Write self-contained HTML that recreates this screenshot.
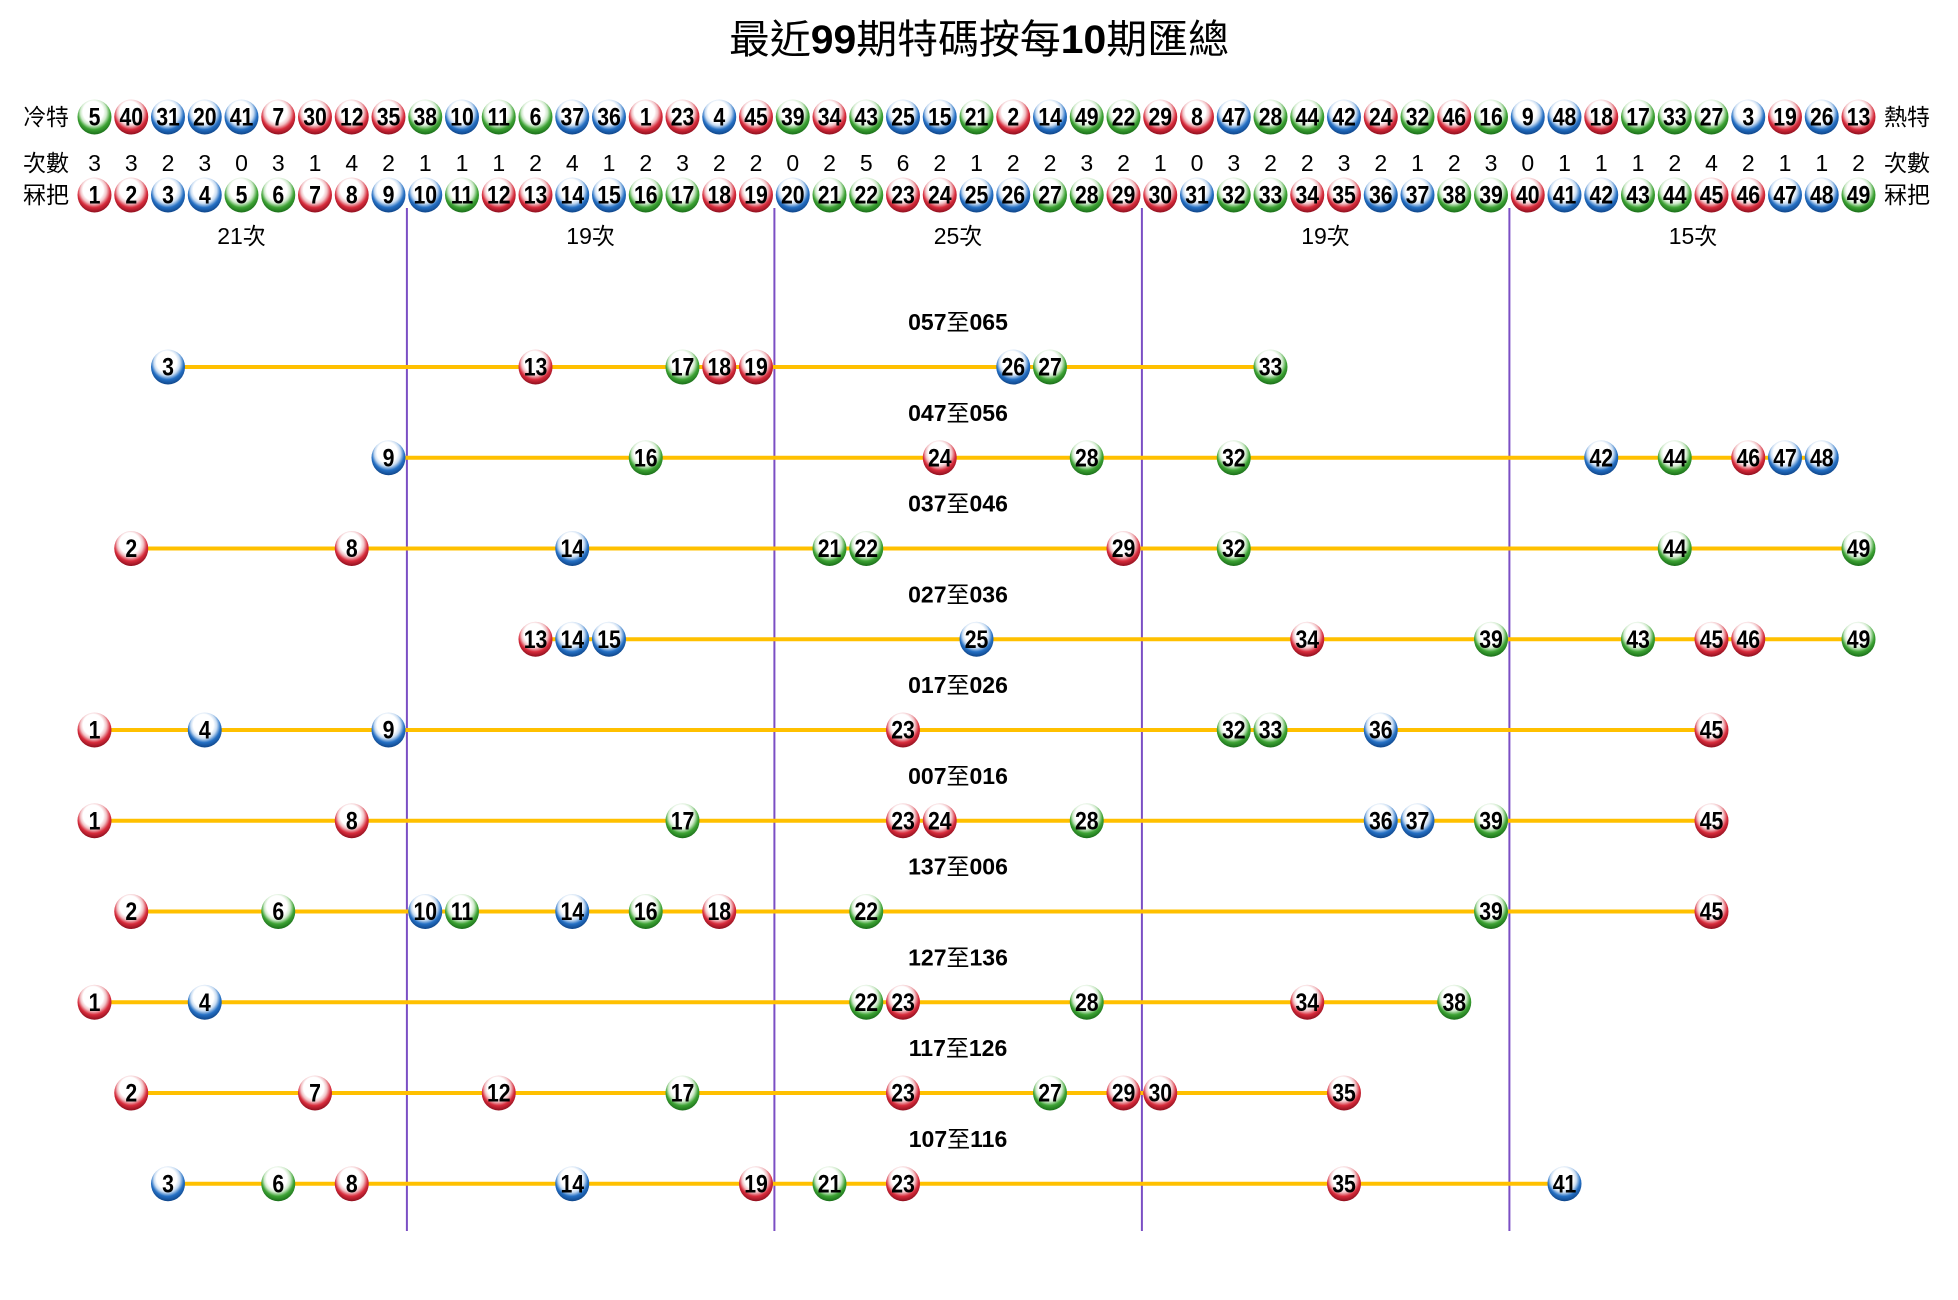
<!DOCTYPE html>
<html><head><meta charset="utf-8">
<style>
html,body{margin:0;padding:0;background:#fff;}
svg{display:block;}
.n{font-family:"Liberation Sans",sans-serif;font-weight:bold;font-size:25px;text-anchor:middle;dominant-baseline:central;fill:#000;transform:scale(0.85,1);}
.c{font-family:"Liberation Sans",sans-serif;font-size:23px;text-anchor:middle;dominant-baseline:central;fill:#000;}
.lb{font-family:"Liberation Sans","Noto Sans CJK TC",sans-serif;font-size:23px;text-anchor:middle;dominant-baseline:central;fill:#000;}
.g{font-family:"Liberation Sans","Noto Sans CJK TC",sans-serif;font-size:23px;text-anchor:middle;dominant-baseline:central;fill:#000;}
.rl{font-family:"Liberation Sans","Noto Sans CJK TC",sans-serif;font-size:23px;font-weight:bold;text-anchor:middle;dominant-baseline:central;fill:#000;}
.t{font-family:"Liberation Sans","Noto Sans CJK TC",sans-serif;font-size:40px;text-anchor:middle;dominant-baseline:central;fill:#000;}
</style></head>
<body>
<svg width="1958" height="1300" viewBox="0 0 1958 1300" xmlns="http://www.w3.org/2000/svg">
<defs>
<radialGradient id="gR" cx="50%" cy="40%" r="60%" fx="42%" fy="30%">
<stop offset="0" stop-color="#ffffff"/><stop offset="0.5" stop-color="#ffffff"/><stop offset="0.64" stop-color="#f2c2c6"/><stop offset="0.8" stop-color="#d82c3c"/><stop offset="1" stop-color="#8e0f1e"/>
</radialGradient>
<radialGradient id="gB" cx="50%" cy="40%" r="60%" fx="42%" fy="30%">
<stop offset="0" stop-color="#ffffff"/><stop offset="0.5" stop-color="#ffffff"/><stop offset="0.64" stop-color="#c8dcf2"/><stop offset="0.8" stop-color="#2570c4"/><stop offset="1" stop-color="#0f4589"/>
</radialGradient>
<radialGradient id="gG" cx="50%" cy="40%" r="60%" fx="42%" fy="30%">
<stop offset="0" stop-color="#ffffff"/><stop offset="0.5" stop-color="#ffffff"/><stop offset="0.64" stop-color="#cfeacb"/><stop offset="0.8" stop-color="#3da334"/><stop offset="1" stop-color="#1a6e19"/>
</radialGradient>
<g id="R"><ellipse rx="17" ry="17.5" fill="url(#gR)"/></g>
<g id="B"><ellipse rx="17" ry="17.5" fill="url(#gB)"/></g>
<g id="G"><ellipse rx="17" ry="17.5" fill="url(#gG)"/></g>
</defs>

<!-- Title -->
<text class="t" x="979" y="40" textLength="500" lengthAdjust="spacingAndGlyphs">最近<tspan font-weight="bold">99</tspan>期特碼按每<tspan font-weight="bold">10</tspan>期匯總</text>

<!-- Side labels -->
<text class="lb" x="46" y="117">冷特</text>
<text class="lb" x="46" y="163">次數</text>
<text class="lb" x="46" y="195">冧把</text>
<text class="lb" x="1907" y="117">熱特</text>
<text class="lb" x="1907" y="163">次數</text>
<text class="lb" x="1907" y="195">冧把</text>

<!-- Purple separators -->
<g stroke="#7b4fc4" stroke-width="2">
<line x1="406.9" y1="208" x2="406.9" y2="1231"/>
<line x1="774.4" y1="208" x2="774.4" y2="1231"/>
<line x1="1141.9" y1="208" x2="1141.9" y2="1231"/>
<line x1="1509.4" y1="208" x2="1509.4" y2="1231"/>
</g>

<!-- Group labels -->
<text class="g" x="241.5" y="236">21次</text>
<text class="g" x="590.6" y="236">19次</text>
<text class="g" x="958" y="236">25次</text>
<text class="g" x="1325.5" y="236">19次</text>
<text class="g" x="1693" y="236">15次</text>

<!-- 冷特 row -->
<g transform="translate(94.5,117)"><use href="#G"/><text class="n">5</text></g>
<g transform="translate(131.25,117)"><use href="#R"/><text class="n">40</text></g>
<g transform="translate(168,117)"><use href="#B"/><text class="n">31</text></g>
<g transform="translate(204.75,117)"><use href="#B"/><text class="n">20</text></g>
<g transform="translate(241.5,117)"><use href="#B"/><text class="n">41</text></g>
<g transform="translate(278.25,117)"><use href="#R"/><text class="n">7</text></g>
<g transform="translate(315,117)"><use href="#R"/><text class="n">30</text></g>
<g transform="translate(351.75,117)"><use href="#R"/><text class="n">12</text></g>
<g transform="translate(388.5,117)"><use href="#R"/><text class="n">35</text></g>
<g transform="translate(425.25,117)"><use href="#G"/><text class="n">38</text></g>
<g transform="translate(462,117)"><use href="#B"/><text class="n">10</text></g>
<g transform="translate(498.75,117)"><use href="#G"/><text class="n">11</text></g>
<g transform="translate(535.5,117)"><use href="#G"/><text class="n">6</text></g>
<g transform="translate(572.25,117)"><use href="#B"/><text class="n">37</text></g>
<g transform="translate(609,117)"><use href="#B"/><text class="n">36</text></g>
<g transform="translate(645.75,117)"><use href="#R"/><text class="n">1</text></g>
<g transform="translate(682.5,117)"><use href="#R"/><text class="n">23</text></g>
<g transform="translate(719.25,117)"><use href="#B"/><text class="n">4</text></g>
<g transform="translate(756,117)"><use href="#R"/><text class="n">45</text></g>
<g transform="translate(792.75,117)"><use href="#G"/><text class="n">39</text></g>
<g transform="translate(829.5,117)"><use href="#R"/><text class="n">34</text></g>
<g transform="translate(866.25,117)"><use href="#G"/><text class="n">43</text></g>
<g transform="translate(903,117)"><use href="#B"/><text class="n">25</text></g>
<g transform="translate(939.75,117)"><use href="#B"/><text class="n">15</text></g>
<g transform="translate(976.5,117)"><use href="#G"/><text class="n">21</text></g>
<g transform="translate(1013.25,117)"><use href="#R"/><text class="n">2</text></g>
<g transform="translate(1050,117)"><use href="#B"/><text class="n">14</text></g>
<g transform="translate(1086.75,117)"><use href="#G"/><text class="n">49</text></g>
<g transform="translate(1123.5,117)"><use href="#G"/><text class="n">22</text></g>
<g transform="translate(1160.25,117)"><use href="#R"/><text class="n">29</text></g>
<g transform="translate(1197,117)"><use href="#R"/><text class="n">8</text></g>
<g transform="translate(1233.75,117)"><use href="#B"/><text class="n">47</text></g>
<g transform="translate(1270.5,117)"><use href="#G"/><text class="n">28</text></g>
<g transform="translate(1307.25,117)"><use href="#G"/><text class="n">44</text></g>
<g transform="translate(1344,117)"><use href="#B"/><text class="n">42</text></g>
<g transform="translate(1380.75,117)"><use href="#R"/><text class="n">24</text></g>
<g transform="translate(1417.5,117)"><use href="#G"/><text class="n">32</text></g>
<g transform="translate(1454.25,117)"><use href="#R"/><text class="n">46</text></g>
<g transform="translate(1491,117)"><use href="#G"/><text class="n">16</text></g>
<g transform="translate(1527.75,117)"><use href="#B"/><text class="n">9</text></g>
<g transform="translate(1564.5,117)"><use href="#B"/><text class="n">48</text></g>
<g transform="translate(1601.25,117)"><use href="#R"/><text class="n">18</text></g>
<g transform="translate(1638,117)"><use href="#G"/><text class="n">17</text></g>
<g transform="translate(1674.75,117)"><use href="#G"/><text class="n">33</text></g>
<g transform="translate(1711.5,117)"><use href="#G"/><text class="n">27</text></g>
<g transform="translate(1748.25,117)"><use href="#B"/><text class="n">3</text></g>
<g transform="translate(1785,117)"><use href="#R"/><text class="n">19</text></g>
<g transform="translate(1821.75,117)"><use href="#B"/><text class="n">26</text></g>
<g transform="translate(1858.5,117)"><use href="#R"/><text class="n">13</text></g>

<!-- 次數 row -->
<text class="c" x="94.5" y="163">3</text>
<text class="c" x="131.25" y="163">3</text>
<text class="c" x="168" y="163">2</text>
<text class="c" x="204.75" y="163">3</text>
<text class="c" x="241.5" y="163">0</text>
<text class="c" x="278.25" y="163">3</text>
<text class="c" x="315" y="163">1</text>
<text class="c" x="351.75" y="163">4</text>
<text class="c" x="388.5" y="163">2</text>
<text class="c" x="425.25" y="163">1</text>
<text class="c" x="462" y="163">1</text>
<text class="c" x="498.75" y="163">1</text>
<text class="c" x="535.5" y="163">2</text>
<text class="c" x="572.25" y="163">4</text>
<text class="c" x="609" y="163">1</text>
<text class="c" x="645.75" y="163">2</text>
<text class="c" x="682.5" y="163">3</text>
<text class="c" x="719.25" y="163">2</text>
<text class="c" x="756" y="163">2</text>
<text class="c" x="792.75" y="163">0</text>
<text class="c" x="829.5" y="163">2</text>
<text class="c" x="866.25" y="163">5</text>
<text class="c" x="903" y="163">6</text>
<text class="c" x="939.75" y="163">2</text>
<text class="c" x="976.5" y="163">1</text>
<text class="c" x="1013.25" y="163">2</text>
<text class="c" x="1050" y="163">2</text>
<text class="c" x="1086.75" y="163">3</text>
<text class="c" x="1123.5" y="163">2</text>
<text class="c" x="1160.25" y="163">1</text>
<text class="c" x="1197" y="163">0</text>
<text class="c" x="1233.75" y="163">3</text>
<text class="c" x="1270.5" y="163">2</text>
<text class="c" x="1307.25" y="163">2</text>
<text class="c" x="1344" y="163">3</text>
<text class="c" x="1380.75" y="163">2</text>
<text class="c" x="1417.5" y="163">1</text>
<text class="c" x="1454.25" y="163">2</text>
<text class="c" x="1491" y="163">3</text>
<text class="c" x="1527.75" y="163">0</text>
<text class="c" x="1564.5" y="163">1</text>
<text class="c" x="1601.25" y="163">1</text>
<text class="c" x="1638" y="163">1</text>
<text class="c" x="1674.75" y="163">2</text>
<text class="c" x="1711.5" y="163">4</text>
<text class="c" x="1748.25" y="163">2</text>
<text class="c" x="1785" y="163">1</text>
<text class="c" x="1821.75" y="163">1</text>
<text class="c" x="1858.5" y="163">2</text>

<!-- 冧把 row -->
<g transform="translate(94.5,195)"><use href="#R"/><text class="n">1</text></g>
<g transform="translate(131.25,195)"><use href="#R"/><text class="n">2</text></g>
<g transform="translate(168,195)"><use href="#B"/><text class="n">3</text></g>
<g transform="translate(204.75,195)"><use href="#B"/><text class="n">4</text></g>
<g transform="translate(241.5,195)"><use href="#G"/><text class="n">5</text></g>
<g transform="translate(278.25,195)"><use href="#G"/><text class="n">6</text></g>
<g transform="translate(315,195)"><use href="#R"/><text class="n">7</text></g>
<g transform="translate(351.75,195)"><use href="#R"/><text class="n">8</text></g>
<g transform="translate(388.5,195)"><use href="#B"/><text class="n">9</text></g>
<g transform="translate(425.25,195)"><use href="#B"/><text class="n">10</text></g>
<g transform="translate(462,195)"><use href="#G"/><text class="n">11</text></g>
<g transform="translate(498.75,195)"><use href="#R"/><text class="n">12</text></g>
<g transform="translate(535.5,195)"><use href="#R"/><text class="n">13</text></g>
<g transform="translate(572.25,195)"><use href="#B"/><text class="n">14</text></g>
<g transform="translate(609,195)"><use href="#B"/><text class="n">15</text></g>
<g transform="translate(645.75,195)"><use href="#G"/><text class="n">16</text></g>
<g transform="translate(682.5,195)"><use href="#G"/><text class="n">17</text></g>
<g transform="translate(719.25,195)"><use href="#R"/><text class="n">18</text></g>
<g transform="translate(756,195)"><use href="#R"/><text class="n">19</text></g>
<g transform="translate(792.75,195)"><use href="#B"/><text class="n">20</text></g>
<g transform="translate(829.5,195)"><use href="#G"/><text class="n">21</text></g>
<g transform="translate(866.25,195)"><use href="#G"/><text class="n">22</text></g>
<g transform="translate(903,195)"><use href="#R"/><text class="n">23</text></g>
<g transform="translate(939.75,195)"><use href="#R"/><text class="n">24</text></g>
<g transform="translate(976.5,195)"><use href="#B"/><text class="n">25</text></g>
<g transform="translate(1013.25,195)"><use href="#B"/><text class="n">26</text></g>
<g transform="translate(1050,195)"><use href="#G"/><text class="n">27</text></g>
<g transform="translate(1086.75,195)"><use href="#G"/><text class="n">28</text></g>
<g transform="translate(1123.5,195)"><use href="#R"/><text class="n">29</text></g>
<g transform="translate(1160.25,195)"><use href="#R"/><text class="n">30</text></g>
<g transform="translate(1197,195)"><use href="#B"/><text class="n">31</text></g>
<g transform="translate(1233.75,195)"><use href="#G"/><text class="n">32</text></g>
<g transform="translate(1270.5,195)"><use href="#G"/><text class="n">33</text></g>
<g transform="translate(1307.25,195)"><use href="#R"/><text class="n">34</text></g>
<g transform="translate(1344,195)"><use href="#R"/><text class="n">35</text></g>
<g transform="translate(1380.75,195)"><use href="#B"/><text class="n">36</text></g>
<g transform="translate(1417.5,195)"><use href="#B"/><text class="n">37</text></g>
<g transform="translate(1454.25,195)"><use href="#G"/><text class="n">38</text></g>
<g transform="translate(1491,195)"><use href="#G"/><text class="n">39</text></g>
<g transform="translate(1527.75,195)"><use href="#R"/><text class="n">40</text></g>
<g transform="translate(1564.5,195)"><use href="#B"/><text class="n">41</text></g>
<g transform="translate(1601.25,195)"><use href="#B"/><text class="n">42</text></g>
<g transform="translate(1638,195)"><use href="#G"/><text class="n">43</text></g>
<g transform="translate(1674.75,195)"><use href="#G"/><text class="n">44</text></g>
<g transform="translate(1711.5,195)"><use href="#R"/><text class="n">45</text></g>
<g transform="translate(1748.25,195)"><use href="#R"/><text class="n">46</text></g>
<g transform="translate(1785,195)"><use href="#B"/><text class="n">47</text></g>
<g transform="translate(1821.75,195)"><use href="#B"/><text class="n">48</text></g>
<g transform="translate(1858.5,195)"><use href="#G"/><text class="n">49</text></g>

<!-- Row labels -->
<text class="rl" x="958" y="322">057<tspan font-weight="normal">至</tspan>065</text>
<text class="rl" x="958" y="412.75">047<tspan font-weight="normal">至</tspan>056</text>
<text class="rl" x="958" y="503.5">037<tspan font-weight="normal">至</tspan>046</text>
<text class="rl" x="958" y="594.25">027<tspan font-weight="normal">至</tspan>036</text>
<text class="rl" x="958" y="685">017<tspan font-weight="normal">至</tspan>026</text>
<text class="rl" x="958" y="775.75">007<tspan font-weight="normal">至</tspan>016</text>
<text class="rl" x="958" y="866.5">137<tspan font-weight="normal">至</tspan>006</text>
<text class="rl" x="958" y="957.25">127<tspan font-weight="normal">至</tspan>136</text>
<text class="rl" x="958" y="1048">117<tspan font-weight="normal">至</tspan>126</text>
<text class="rl" x="958" y="1138.75">107<tspan font-weight="normal">至</tspan>116</text>

<!-- Yellow lines -->
<g stroke="#FFC000" stroke-width="4">
<line x1="168" y1="367" x2="1270.5" y2="367"/>
<line x1="388.5" y1="457.75" x2="1821.75" y2="457.75"/>
<line x1="131.25" y1="548.5" x2="1858.5" y2="548.5"/>
<line x1="535.5" y1="639.25" x2="1858.5" y2="639.25"/>
<line x1="94.5" y1="730" x2="1711.5" y2="730"/>
<line x1="94.5" y1="820.75" x2="1711.5" y2="820.75"/>
<line x1="131.25" y1="911.5" x2="1711.5" y2="911.5"/>
<line x1="94.5" y1="1002.25" x2="1454.25" y2="1002.25"/>
<line x1="131.25" y1="1093" x2="1344" y2="1093"/>
<line x1="168" y1="1183.75" x2="1564.5" y2="1183.75"/>
</g>

<!-- Row 0: 057至065 -->
<g transform="translate(168,367)"><use href="#B"/><text class="n">3</text></g>
<g transform="translate(535.5,367)"><use href="#R"/><text class="n">13</text></g>
<g transform="translate(682.5,367)"><use href="#G"/><text class="n">17</text></g>
<g transform="translate(719.25,367)"><use href="#R"/><text class="n">18</text></g>
<g transform="translate(756,367)"><use href="#R"/><text class="n">19</text></g>
<g transform="translate(1013.25,367)"><use href="#B"/><text class="n">26</text></g>
<g transform="translate(1050,367)"><use href="#G"/><text class="n">27</text></g>
<g transform="translate(1270.5,367)"><use href="#G"/><text class="n">33</text></g>

<!-- Row 1: 047至056 -->
<g transform="translate(388.5,457.75)"><use href="#B"/><text class="n">9</text></g>
<g transform="translate(645.75,457.75)"><use href="#G"/><text class="n">16</text></g>
<g transform="translate(939.75,457.75)"><use href="#R"/><text class="n">24</text></g>
<g transform="translate(1086.75,457.75)"><use href="#G"/><text class="n">28</text></g>
<g transform="translate(1233.75,457.75)"><use href="#G"/><text class="n">32</text></g>
<g transform="translate(1601.25,457.75)"><use href="#B"/><text class="n">42</text></g>
<g transform="translate(1674.75,457.75)"><use href="#G"/><text class="n">44</text></g>
<g transform="translate(1748.25,457.75)"><use href="#R"/><text class="n">46</text></g>
<g transform="translate(1785,457.75)"><use href="#B"/><text class="n">47</text></g>
<g transform="translate(1821.75,457.75)"><use href="#B"/><text class="n">48</text></g>

<!-- Row 2: 037至046 -->
<g transform="translate(131.25,548.5)"><use href="#R"/><text class="n">2</text></g>
<g transform="translate(351.75,548.5)"><use href="#R"/><text class="n">8</text></g>
<g transform="translate(572.25,548.5)"><use href="#B"/><text class="n">14</text></g>
<g transform="translate(829.5,548.5)"><use href="#G"/><text class="n">21</text></g>
<g transform="translate(866.25,548.5)"><use href="#G"/><text class="n">22</text></g>
<g transform="translate(1123.5,548.5)"><use href="#R"/><text class="n">29</text></g>
<g transform="translate(1233.75,548.5)"><use href="#G"/><text class="n">32</text></g>
<g transform="translate(1674.75,548.5)"><use href="#G"/><text class="n">44</text></g>
<g transform="translate(1858.5,548.5)"><use href="#G"/><text class="n">49</text></g>

<!-- Row 3: 027至036 -->
<g transform="translate(535.5,639.25)"><use href="#R"/><text class="n">13</text></g>
<g transform="translate(572.25,639.25)"><use href="#B"/><text class="n">14</text></g>
<g transform="translate(609,639.25)"><use href="#B"/><text class="n">15</text></g>
<g transform="translate(976.5,639.25)"><use href="#B"/><text class="n">25</text></g>
<g transform="translate(1307.25,639.25)"><use href="#R"/><text class="n">34</text></g>
<g transform="translate(1491,639.25)"><use href="#G"/><text class="n">39</text></g>
<g transform="translate(1638,639.25)"><use href="#G"/><text class="n">43</text></g>
<g transform="translate(1711.5,639.25)"><use href="#R"/><text class="n">45</text></g>
<g transform="translate(1748.25,639.25)"><use href="#R"/><text class="n">46</text></g>
<g transform="translate(1858.5,639.25)"><use href="#G"/><text class="n">49</text></g>

<!-- Row 4: 017至026 -->
<g transform="translate(94.5,730)"><use href="#R"/><text class="n">1</text></g>
<g transform="translate(204.75,730)"><use href="#B"/><text class="n">4</text></g>
<g transform="translate(388.5,730)"><use href="#B"/><text class="n">9</text></g>
<g transform="translate(903,730)"><use href="#R"/><text class="n">23</text></g>
<g transform="translate(1233.75,730)"><use href="#G"/><text class="n">32</text></g>
<g transform="translate(1270.5,730)"><use href="#G"/><text class="n">33</text></g>
<g transform="translate(1380.75,730)"><use href="#B"/><text class="n">36</text></g>
<g transform="translate(1711.5,730)"><use href="#R"/><text class="n">45</text></g>

<!-- Row 5: 007至016 -->
<g transform="translate(94.5,820.75)"><use href="#R"/><text class="n">1</text></g>
<g transform="translate(351.75,820.75)"><use href="#R"/><text class="n">8</text></g>
<g transform="translate(682.5,820.75)"><use href="#G"/><text class="n">17</text></g>
<g transform="translate(903,820.75)"><use href="#R"/><text class="n">23</text></g>
<g transform="translate(939.75,820.75)"><use href="#R"/><text class="n">24</text></g>
<g transform="translate(1086.75,820.75)"><use href="#G"/><text class="n">28</text></g>
<g transform="translate(1380.75,820.75)"><use href="#B"/><text class="n">36</text></g>
<g transform="translate(1417.5,820.75)"><use href="#B"/><text class="n">37</text></g>
<g transform="translate(1491,820.75)"><use href="#G"/><text class="n">39</text></g>
<g transform="translate(1711.5,820.75)"><use href="#R"/><text class="n">45</text></g>

<!-- Row 6: 137至006 -->
<g transform="translate(131.25,911.5)"><use href="#R"/><text class="n">2</text></g>
<g transform="translate(278.25,911.5)"><use href="#G"/><text class="n">6</text></g>
<g transform="translate(425.25,911.5)"><use href="#B"/><text class="n">10</text></g>
<g transform="translate(462,911.5)"><use href="#G"/><text class="n">11</text></g>
<g transform="translate(572.25,911.5)"><use href="#B"/><text class="n">14</text></g>
<g transform="translate(645.75,911.5)"><use href="#G"/><text class="n">16</text></g>
<g transform="translate(719.25,911.5)"><use href="#R"/><text class="n">18</text></g>
<g transform="translate(866.25,911.5)"><use href="#G"/><text class="n">22</text></g>
<g transform="translate(1491,911.5)"><use href="#G"/><text class="n">39</text></g>
<g transform="translate(1711.5,911.5)"><use href="#R"/><text class="n">45</text></g>

<!-- Row 7: 127至136 -->
<g transform="translate(94.5,1002.25)"><use href="#R"/><text class="n">1</text></g>
<g transform="translate(204.75,1002.25)"><use href="#B"/><text class="n">4</text></g>
<g transform="translate(866.25,1002.25)"><use href="#G"/><text class="n">22</text></g>
<g transform="translate(903,1002.25)"><use href="#R"/><text class="n">23</text></g>
<g transform="translate(1086.75,1002.25)"><use href="#G"/><text class="n">28</text></g>
<g transform="translate(1307.25,1002.25)"><use href="#R"/><text class="n">34</text></g>
<g transform="translate(1454.25,1002.25)"><use href="#G"/><text class="n">38</text></g>

<!-- Row 8: 117至126 -->
<g transform="translate(131.25,1093)"><use href="#R"/><text class="n">2</text></g>
<g transform="translate(315,1093)"><use href="#R"/><text class="n">7</text></g>
<g transform="translate(498.75,1093)"><use href="#R"/><text class="n">12</text></g>
<g transform="translate(682.5,1093)"><use href="#G"/><text class="n">17</text></g>
<g transform="translate(903,1093)"><use href="#R"/><text class="n">23</text></g>
<g transform="translate(1050,1093)"><use href="#G"/><text class="n">27</text></g>
<g transform="translate(1123.5,1093)"><use href="#R"/><text class="n">29</text></g>
<g transform="translate(1160.25,1093)"><use href="#R"/><text class="n">30</text></g>
<g transform="translate(1344,1093)"><use href="#R"/><text class="n">35</text></g>

<!-- Row 9: 107至116 -->
<g transform="translate(168,1183.75)"><use href="#B"/><text class="n">3</text></g>
<g transform="translate(278.25,1183.75)"><use href="#G"/><text class="n">6</text></g>
<g transform="translate(351.75,1183.75)"><use href="#R"/><text class="n">8</text></g>
<g transform="translate(572.25,1183.75)"><use href="#B"/><text class="n">14</text></g>
<g transform="translate(756,1183.75)"><use href="#R"/><text class="n">19</text></g>
<g transform="translate(829.5,1183.75)"><use href="#G"/><text class="n">21</text></g>
<g transform="translate(903,1183.75)"><use href="#R"/><text class="n">23</text></g>
<g transform="translate(1344,1183.75)"><use href="#R"/><text class="n">35</text></g>
<g transform="translate(1564.5,1183.75)"><use href="#B"/><text class="n">41</text></g>
</svg>
</body></html>
